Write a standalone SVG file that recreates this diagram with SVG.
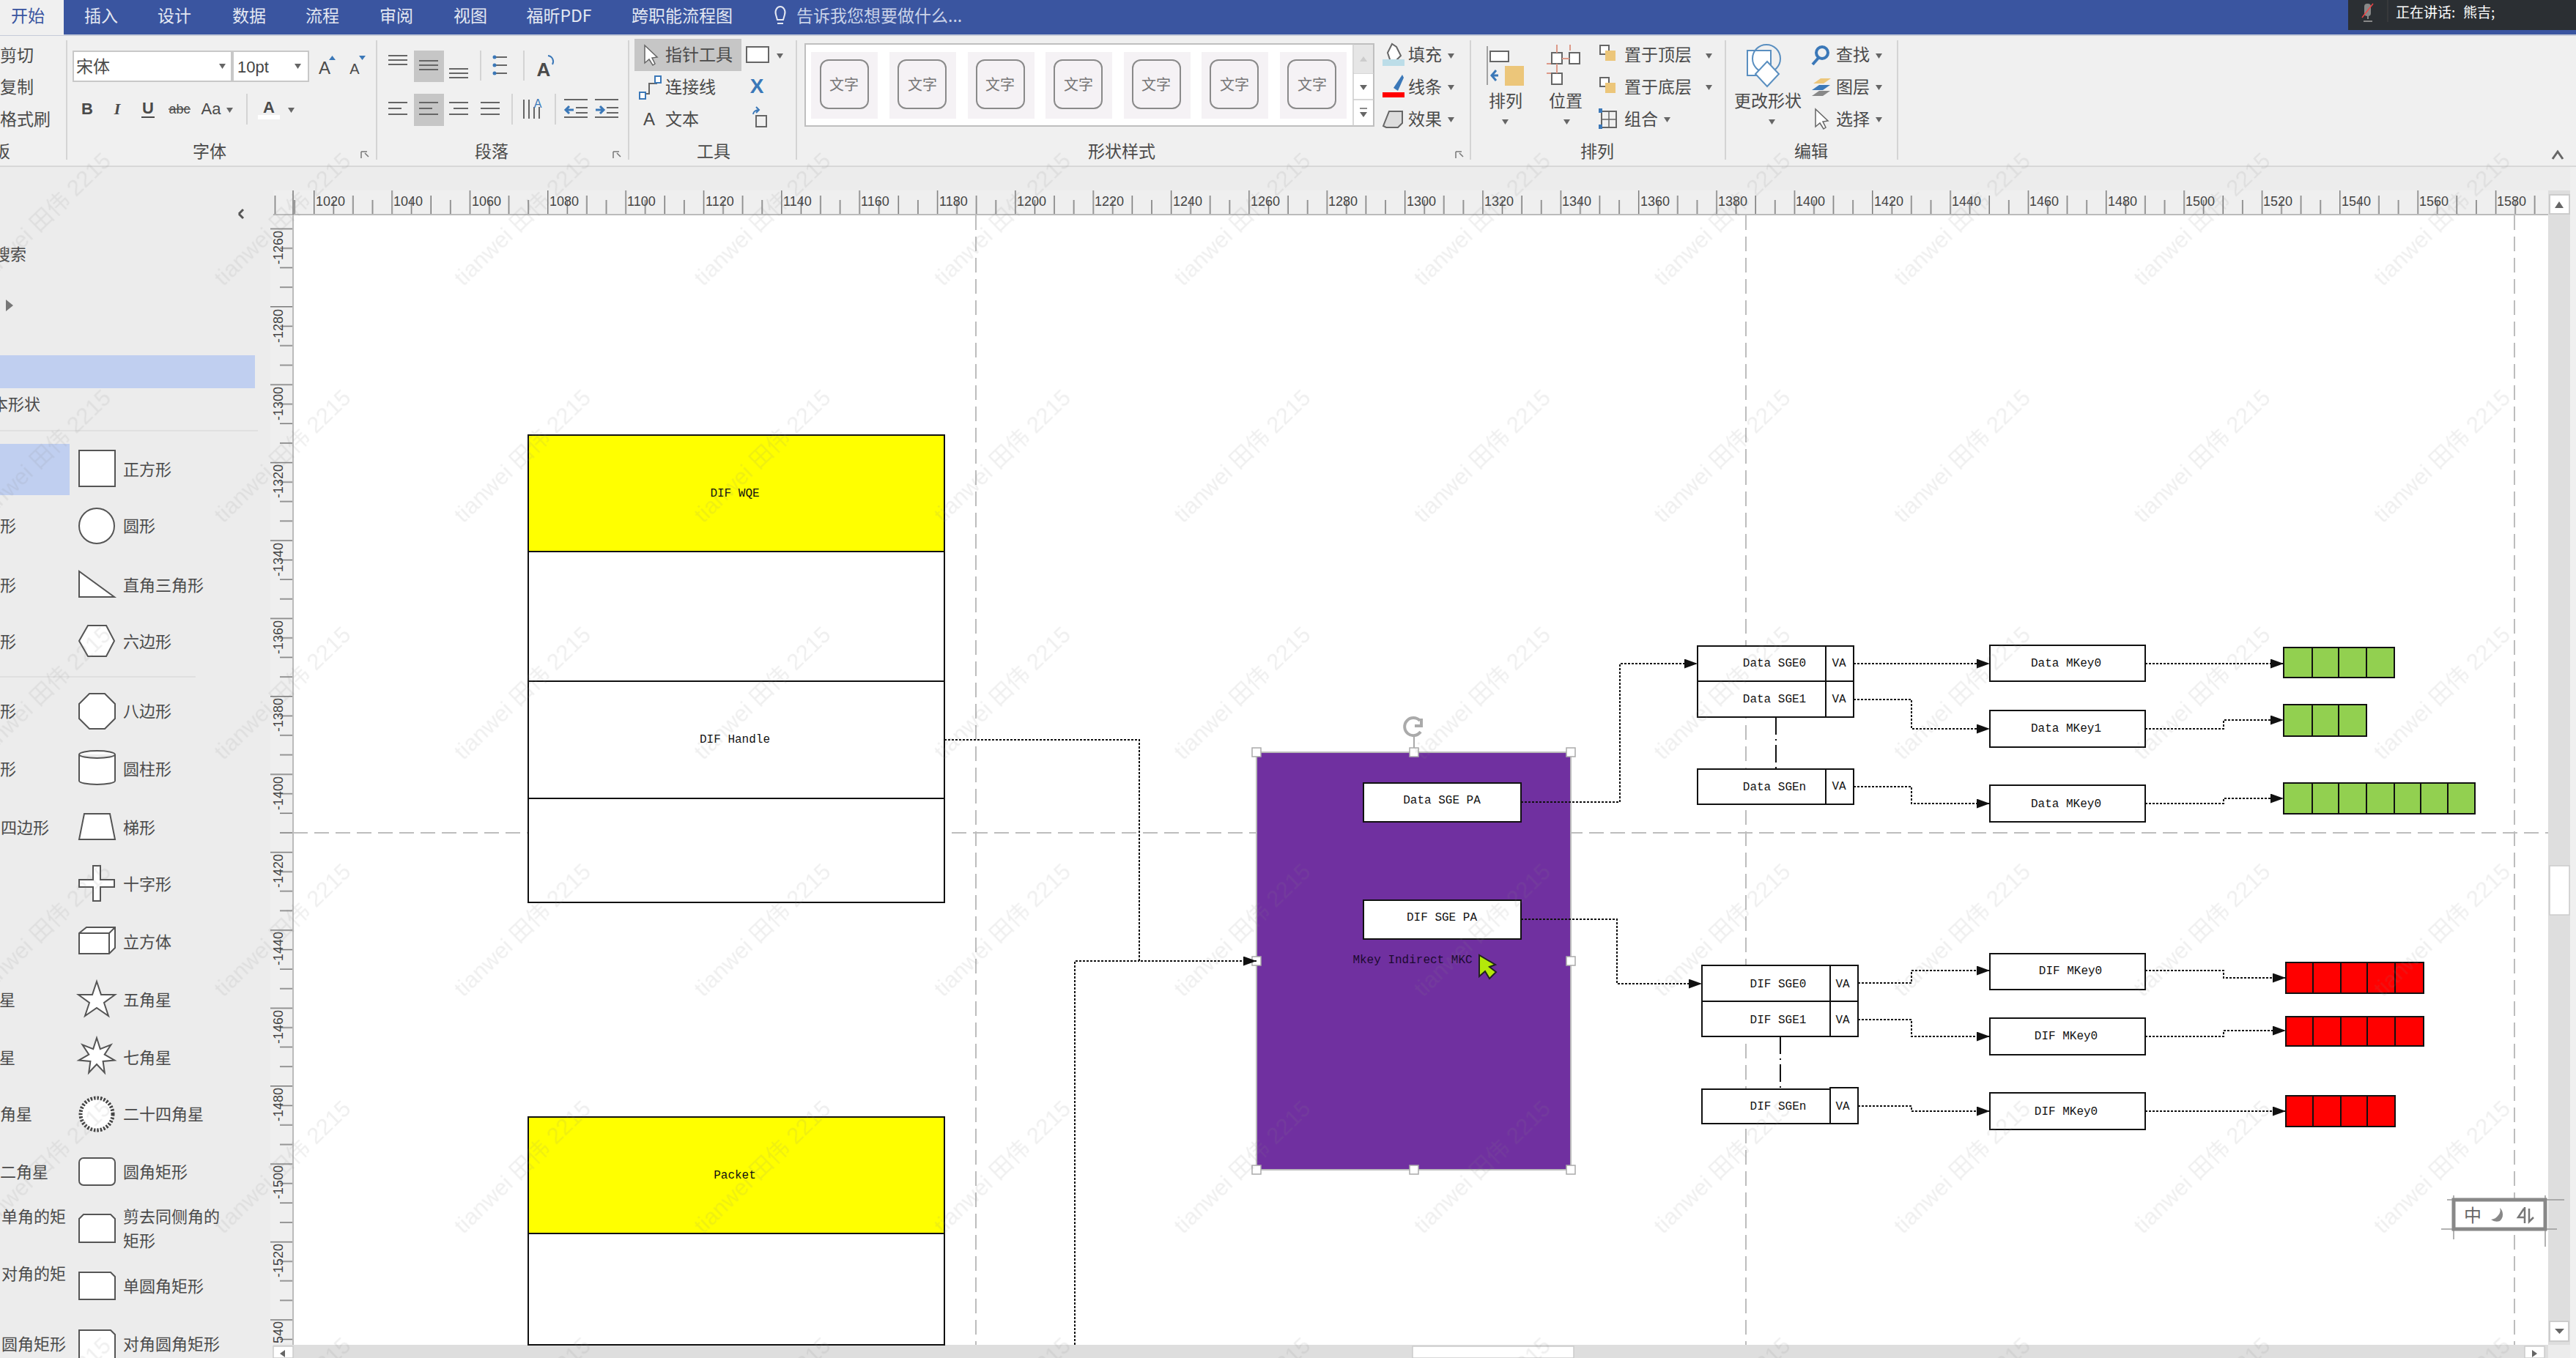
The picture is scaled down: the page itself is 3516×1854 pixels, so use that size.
<svg xmlns="http://www.w3.org/2000/svg" width="3516" height="1854" viewBox="0 0 3516 1854">
<style>
text{dominant-baseline:central}
.u{font:23px "Noto Sans CJK SC","Liberation Sans",sans-serif;fill:#4a4a4a;transform:translateY(-2px)}
.s{font:22px "Noto Sans CJK SC","Liberation Sans",sans-serif;fill:#4a4a4a;transform:translateY(-2px)}
.t{font:23px "Noto Sans CJK SC","Liberation Sans",sans-serif;fill:#e4e8f2;text-anchor:middle;transform:translateY(-1px)}
.c{text-anchor:middle}
.e{text-anchor:end}
.r{font:18px "Liberation Sans",sans-serif;fill:#444}
.m{font:16px "Liberation Mono",monospace;fill:#111;text-anchor:middle;transform:translateY(2px)}
.b{font:bold 22px "Liberation Sans",sans-serif;fill:#4a4a4a;text-anchor:middle}
.g{font:20px "Noto Sans CJK SC",sans-serif;fill:#777;text-anchor:middle}
.n{fill:#fff;stroke:#111;stroke-width:2}
.sh{fill:#fff;stroke:#555;stroke-width:2}
.i{fill:none;stroke:#666;stroke-width:2}
.a{fill:#666}
.sep{stroke:#d4d4d4;stroke-width:2}
.sw{fill:#f5f2f5}
.inner{fill:#f5f2f5;stroke:#8a8a8a;stroke-width:2}
.gu{stroke:#bdbdbd;stroke-width:2;stroke-dasharray:20 9;fill:none}
.k{fill:none;stroke:#111;stroke-width:2;stroke-dasharray:3 2;marker-end:url(#ah)}
.k0{fill:none;stroke:#111;stroke-width:2;stroke-dasharray:3 2}
.h{fill:#fff;stroke:#aaa;stroke-width:1.5}
.gr{fill:#92d050;stroke:#111;stroke-width:2}
.rd{fill:#f00;stroke:#111;stroke-width:2}
</style>
<defs>
<marker id="ah" markerUnits="userSpaceOnUse" markerWidth="18" markerHeight="13" refX="18" refY="6.5" orient="auto"><path d="M0 0L18 6.5L0 13z" fill="#111"/></marker>
<pattern id="rh" patternUnits="userSpaceOnUse" x="428" y="260" width="106.35" height="33"><path d="M.7 0V33M27.3 13V33M53.9 7V33M80.5 13V33" stroke="#777" stroke-width="1.5" fill="none"/></pattern>
<pattern id="rv" patternUnits="userSpaceOnUse" x="369" y="418" width="31" height="106.4"><path d="M0 .7H31M13 27.3H31M13 53.9H31M13 80.5H31" stroke="#777" stroke-width="1.5" fill="none"/></pattern>
<pattern id="wm" patternUnits="userSpaceOnUse" x="500" y="800" width="327.5" height="323.5"><text transform="translate(301 61) rotate(-44)" text-anchor="end" font-family="'Liberation Sans','Noto Sans CJK SC',sans-serif" font-size="31" fill="#808080" fill-opacity=".13">tianwei 田伟 2215</text></pattern>
<clipPath id="cv"><rect x="369" y="294" width="31" height="1540"/></clipPath>
</defs>

<rect width="3516" height="1854" fill="#ececec"/>
<rect y="48" width="3516" height="179" fill="#f0f0f0"/>
<rect y="226" width="3516" height="2" fill="#d8d8d8"/>

<g id="tabs">
<rect width="3516" height="47" fill="#3a55a0"/>
<rect y="47" width="3516" height="2" fill="#c5cbd9"/>
<rect width="87" height="48" fill="#f0f0f0"/>
<text class="t" x="38" y="21" style="fill:#3a55a0">开始</text>
<text class="t" x="138" y="21">插入</text><text class="t" x="238" y="21">设计</text><text class="t" x="340" y="21">数据</text><text class="t" x="440" y="21">流程</text><text class="t" x="541" y="21">审阅</text><text class="t" x="642" y="21">视图</text><text class="t" x="763" y="21">福昕PDF</text><text class="t" x="931" y="21">跨职能流程图</text>
<path d="M1059 20a6.500 8 0 1 1 12 0l-2 7h-8zM1061 32h8" fill="none" stroke="#e4e8f2" stroke-width="2"/>
<text class="u" x="1087" y="22" style="fill:#c9d2e8">告诉我您想要做什么...</text>
</g>
<g id="speaking">
<rect x="3205" width="311" height="41" fill="#2b2f33"/>
<rect x="3227" y="5" width="9" height="17" rx="4" fill="#888"/><path d="M3232 22v4M3226 29h12" stroke="#888" stroke-width="2"/>
<path d="M3224 24L3239 5" stroke="#e44" stroke-width="1.500"/>
<path d="M3259 0V30" stroke="#444" stroke-width="1"/>
<text x="3270" y="15" font-family="'Noto Sans CJK SC',sans-serif" font-size="19" fill="#fff">正在讲话:</text>
<text x="3362" y="15" font-family="'Noto Sans CJK SC',sans-serif" font-size="19" fill="#fff">熊吉;</text>
</g>

<g id="ribbon-clipboard">
<text class="u" x="0" y="76">剪切</text><text class="u" x="0" y="119">复制</text><text class="u" x="0" y="163">格式刷</text><text class="u e" x="14" y="207">板</text>
<path class="sep" d="M91 55V218"/>
</g>
<g id="ribbon-font">
<rect x="100" y="70" width="216" height="41" fill="#fff" stroke="#c8c8c8" stroke-width="2"/><rect x="318" y="70" width="103" height="41" fill="#fff" stroke="#c8c8c8" stroke-width="2"/>
<text class="u" x="104" y="91">宋体</text><text x="324" y="91" font-family="'Liberation Sans',sans-serif" font-size="22" fill="#444">10pt</text>
<path class="a" d="M299 87h9l-4.500 7zM402 87h9l-4.500 7z"/>
<text class="b" x="443" y="92" style="font:24px 'Liberation Sans',sans-serif">A</text><text class="b" x="484" y="94" style="font:20px 'Liberation Sans',sans-serif">A</text>
<path d="M449 82h9l-4.500-6z" fill="#3b78b8"/><path d="M490 76h9l-4.500 6z" fill="#3b78b8"/>
<text class="b" x="119" y="148">B</text><text class="b" x="160" y="148" style="font:italic bold 22px 'Liberation Serif',serif">I</text><text class="b" x="202" y="147">U</text><path d="M193 160h18" stroke="#4a4a4a" stroke-width="2"/>
<text class="b" x="245" y="149" style="font:18px 'Liberation Sans',sans-serif">abc</text><path d="M230 149h30" stroke="#4a4a4a" stroke-width="1.500"/>
<text class="b" x="288" y="148" style="font:22px 'Liberation Sans',sans-serif">Aa</text><path class="a" d="M309 147h9l-4.500 7zM393 147h9l-4.500 7z"/>
<text class="b" x="367" y="146">A</text><rect x="352" y="157" width="30" height="6" fill="#fff"/>
<path class="sep" d="M337 128V170"/>
<text class="u c" x="286" y="207">字体</text>
<path d="M493 207h8M493 207v9M503 214l-5-5" fill="none" stroke="#777" stroke-width="1.500"/>
<path class="sep" d="M514 55V218"/>
</g>
<g id="ribbon-paragraph">
<rect x="565" y="69" width="41" height="43" fill="#c6c6c6"/><rect x="565" y="128" width="41" height="44" fill="#c6c6c6"/>
<path class="i" d="M530 76h26M530 82h26M530 88h26M572 83h26M572 89h26M572 95h26M613 94h26M613 100h26M613 106h26"/>
<path class="i" d="M530 140h26M530 148h18M530 156h26M572 140h26M572 148h18M572 156h26M613 140h26M619 148h20M613 156h26M656 140h26M656 148h26M656 156h26"/>
<path d="M674 78h18M674 89h18M674 100h18" stroke="#666" stroke-width="2"/><circle cx="675" cy="78" r="2.500" fill="#3b78b8"/><circle cx="675" cy="89" r="2.500" fill="#3b78b8"/><circle cx="675" cy="100" r="2.500" fill="#3b78b8"/>
<path class="sep" d="M656 69V110M715 69V110M699 128V170M758 128V170"/>
<text class="b" x="742" y="95" style="font:bold 26px 'Liberation Sans',sans-serif">A</text><path d="M748 76a8 8 0 0 1 6 12" fill="none" stroke="#3b78b8" stroke-width="2"/>
<path class="i" d="M715 136v26M722 136v26M729 146v16M736 146v16"/><text class="b" x="734" y="141" style="font:16px 'Liberation Sans',sans-serif;fill:#3b78b8">A</text>
<path class="i" d="M770 136h32M786 147h16M786 154h16M770 160h32M812 136h32M828 147h16M828 154h16M812 160h32"/>
<path d="M783 150h-11m5-5l-5 5l5 5" fill="none" stroke="#3b78b8" stroke-width="3"/><path d="M813 150h11m-5-5l5 5l-5 5" fill="none" stroke="#3b78b8" stroke-width="3"/>
<text class="u c" x="671" y="207">段落</text>
<path d="M837 207h8M837 207v9M847 214l-5-5" fill="none" stroke="#777" stroke-width="1.500"/>
<path class="sep" d="M858 55V218"/>
</g>
<g id="ribbon-tools">
<rect x="866" y="53" width="146" height="44" fill="#c6c6c6"/>
<path d="M880 62l0 24l6-5l5 8l3-2l-4-8l7-1z" fill="#fff" stroke="#666" stroke-width="1.500"/>
<text class="u" x="908" y="75">指针工具</text>
<rect x="1019" y="64" width="30" height="21" fill="#fff" stroke="#666" stroke-width="2"/><path class="a" d="M1060 73h9l-4.500 7z"/>
<path d="M877 128h9v-14h11" fill="none" stroke="#666" stroke-width="2"/><rect x="873" y="126" width="8" height="9" fill="#fff" stroke="#3b78b8" stroke-width="2"/><rect x="894" y="104" width="8" height="9" fill="#fff" stroke="#3b78b8" stroke-width="2"/>
<text class="u" x="908" y="119">连接线</text>
<text x="1033" y="117" class="c" font-family="'Liberation Sans',sans-serif" font-size="28" font-weight="bold" fill="#3b78b8">X</text>
<text class="b" x="886" y="162" style="font:24px 'Liberation Sans',sans-serif">A</text><text class="u" x="908" y="163">文本</text>
<path d="M1028 156a8 6 0 0 1 8-6M1032 146l4 4l-4 4" fill="none" stroke="#3b78b8" stroke-width="2"/><rect x="1032" y="158" width="14" height="15" class="i"/>
<text class="u c" x="974" y="207">工具</text>
<path class="sep" d="M1087 55V218"/>
</g>
<g id="ribbon-styles">
<rect x="1099" y="60" width="776" height="112" fill="#fff" stroke="#bfbfbf" stroke-width="2"/>
<path d="M1847 60V172M1847 100H1875M1847 136H1875" stroke="#ccc" stroke-width="1.500"/>
<rect x="1848" y="61" width="26" height="39" fill="#e6e6e6"/>
<path d="M1856 84l5-7l5 7z" fill="#ccc"/><path class="a" d="M1856 116h10l-5 7zM1856 153h10l-5 7z"/><path d="M1856 148h10" stroke="#666" stroke-width="1.500"/>
<rect class="sw" x="1107" y="71" width="91" height="91"/><rect class="sw" x="1214" y="71" width="91" height="91"/><rect class="sw" x="1321" y="71" width="91" height="91"/><rect class="sw" x="1427" y="71" width="91" height="91"/><rect class="sw" x="1534" y="71" width="91" height="91"/><rect class="sw" x="1640" y="71" width="91" height="91"/><rect class="sw" x="1747" y="71" width="91" height="91"/>
<rect class="inner" x="1120" y="82" width="65" height="66" rx="11"/><rect class="inner" x="1226" y="82" width="65" height="66" rx="11"/><rect class="inner" x="1333" y="82" width="65" height="66" rx="11"/><rect class="inner" x="1439" y="82" width="65" height="66" rx="11"/><rect class="inner" x="1546" y="82" width="65" height="66" rx="11"/><rect class="inner" x="1652" y="82" width="65" height="66" rx="11"/><rect class="inner" x="1758" y="82" width="65" height="66" rx="11"/>
<text class="g" x="1152" y="114">文字</text><text class="g" x="1259" y="114">文字</text><text class="g" x="1365" y="114">文字</text><text class="g" x="1472" y="114">文字</text><text class="g" x="1578" y="114">文字</text><text class="g" x="1685" y="114">文字</text><text class="g" x="1791" y="114">文字</text>
<path d="M1894 72l6-12l6 4l6 12l-8 8h-6z" fill="#fff" stroke="#666" stroke-width="2"/><rect x="1887" y="81" width="30" height="9" fill="#bcdde8"/>
<text class="u" x="1922" y="75">填充</text><path class="a" d="M1976 73h9l-4.500 7z"/>
<path d="M1902 120l12-18l2 4l-8 18z" fill="#3b78b8"/><rect x="1887" y="126" width="30" height="7" fill="#f00"/>
<text class="u" x="1922" y="119">线条</text><path class="a" d="M1976 116h9l-4.500 7z"/>
<path d="M1888 172l8-20h18v16l-6 6h-16z" fill="#ddd" stroke="#666" stroke-width="2"/>
<text class="u" x="1922" y="163">效果</text><path class="a" d="M1976 160h9l-4.500 7z"/>
<text class="u c" x="1531" y="207">形状样式</text>
<path d="M1987 207h8M1987 207v9M1997 214l-5-5" fill="none" stroke="#777" stroke-width="1.500"/>
<path class="sep" d="M2007 55V218"/>
</g>
<g id="ribbon-arrange">
<path d="M2030 63V116" stroke="#888" stroke-width="1.500"/><rect x="2034" y="70" width="25" height="14" fill="#fff" stroke="#666" stroke-width="2"/><rect x="2054" y="90" width="26" height="27" fill="#ecc67a"/><path d="M2045 103h-9m6-7l-6 7l6 7" fill="none" stroke="#3b78b8" stroke-width="3"/>
<text class="u c" x="2055" y="138">排列</text><path class="a" d="M2050 163h9l-4.500 7z"/>
<rect x="2118" y="72" width="14" height="15" fill="#fff" stroke="#666" stroke-width="2"/><rect x="2142" y="72" width="14" height="15" fill="#fff" stroke="#666" stroke-width="2"/><rect x="2118" y="100" width="14" height="15" fill="#fff" stroke="#666" stroke-width="2"/>
<path d="M2125 61v11M2125 87v13M2132 80h10M2143 61v8M2111 87h6M2111 100h6" stroke="#d98" stroke-width="2" fill="none"/>
<text class="u c" x="2137" y="138">位置</text><path class="a" d="M2134 163h9l-4.500 7z"/>
<rect x="2184" y="62" width="12" height="12" fill="#fff" stroke="#666" stroke-width="2"/><rect x="2191" y="69" width="14" height="14" fill="#ecc67a"/><rect x="2184" y="106" width="12" height="12" fill="#fff" stroke="#666" stroke-width="2"/><rect x="2191" y="113" width="14" height="14" fill="#ecc67a"/>
<rect x="2186" y="152" width="20" height="22" class="i"/><path d="M2186 163h20M2196 152v22" stroke="#666" stroke-width="1.500"/><rect x="2182" y="148" width="5" height="6" fill="#3b78b8"/><rect x="2182" y="170" width="5" height="6" fill="#3b78b8"/>
<text class="u" x="2217" y="75">置于顶层</text><path class="a" d="M2328 73h9l-4.500 7z"/>
<text class="u" x="2217" y="119">置于底层</text><path class="a" d="M2328 116h9l-4.500 7z"/>
<text class="u" x="2217" y="163">组合</text><path class="a" d="M2271 160h9l-4.500 7z"/>
<text class="u c" x="2180" y="207">排列</text>
<path class="sep" d="M2355 55V218"/>
</g>
<g id="ribbon-edit">
<rect x="2385" y="69" width="32" height="34" fill="#fff" stroke="#5a8fc0" stroke-width="2"/>
<circle cx="2411" cy="80" r="19" fill="none" stroke="#5a8fc0" stroke-width="2"/>
<path d="M2412 84l16 17l-16 17l-16-17z" fill="#fff" stroke="#5a8fc0" stroke-width="2"/>
<text class="u c" x="2413" y="138">更改形状</text><path class="a" d="M2414 163h9l-4.500 7z"/>
<circle cx="2487" cy="72" r="8" fill="none" stroke="#3b78b8" stroke-width="4"/><path d="M2482 79l-8 9" stroke="#3b78b8" stroke-width="4"/>
<text class="u" x="2506" y="75">查找</text><path class="a" d="M2560 73h9l-4.500 7z"/>
<path d="M2475 114l10-7h14l-10 7z" fill="#ecc67a"/><path d="M2473 123l10-7h15l-10 7z" fill="#3b78b8"/><path d="M2473 131l10-7h15l-10 7z" fill="#888"/>
<text class="u" x="2506" y="119">图层</text><path class="a" d="M2560 116h9l-4.500 7z"/>
<path d="M2478 149l0 24l6-5l5 8l3-2l-4-8l7-1z" fill="#fff" stroke="#666" stroke-width="1.500"/>
<text class="u" x="2506" y="163">选择</text><path class="a" d="M2560 160h9l-4.500 7z"/>
<text class="u c" x="2472" y="207">编辑</text>
<path class="sep" d="M2590 55V218"/>
<path d="M3484 217l7-10l7 10" fill="none" stroke="#666" stroke-width="3"/>
</g>

<g id="sidebar">
<path d="M326 292l6-6M326 292l6 6" fill="none" stroke="#555" stroke-width="3"/>
<text class="s e" x="36" y="347">搜索</text>
<path d="M8 409l10 8l-10 8z" fill="#777"/>
<rect y="485" width="348" height="45" fill="#c0cff0"/>
<text class="s e" x="55" y="552">基本形状</text>
<path d="M0 588H352M0 924H267" stroke="#dcdcdc" stroke-width="1.500"/>
<rect y="606" width="95" height="70" fill="#c0cff0"/>
<text class="s e" x="22" y="718">形</text><text class="s e" x="22" y="799">形</text><text class="s e" x="22" y="876">形</text><text class="s e" x="22" y="971">形</text><text class="s e" x="22" y="1050">形</text>
<text class="s e" x="67" y="1130">四边形</text><text class="s e" x="21" y="1365">星</text><text class="s e" x="21" y="1444">星</text><text class="s e" x="44" y="1521">角星</text><text class="s e" x="66" y="1600">二角星</text><text class="s e" x="90" y="1661">单角的矩</text><text class="s e" x="90" y="1739">对角的矩</text><text class="s e" x="90" y="1835">圆角矩形</text>
<rect class="sh" x="108" y="615" width="49" height="49"/><text class="s" x="168" y="641">正方形</text>
<circle class="sh" cx="132" cy="718" r="24"/><text class="s" x="168" y="718">圆形</text>
<path class="sh" d="M108 780V815H156z"/><text class="s" x="168" y="799">直角三角形</text>
<path class="sh" d="M108 875L120 854H145L156 875L145 896H120z"/><text class="s" x="168" y="876">六边形</text>
<path class="sh" d="M108 961L122 947H143L157 961V981L143 995H122L108 981z"/><text class="s" x="168" y="971">八边形</text>
<path class="sh" d="M108 1030a24.500 5 0 0 1 49 0V1066a24.500 5 0 0 1-49 0zM108 1030a24.500 5 0 0 0 49 0"/><text class="s" x="168" y="1050">圆柱形</text>
<path class="sh" d="M115 1111H150L157 1146H108z"/><text class="s" x="168" y="1130">梯形</text>
<path class="sh" d="M127 1182H137V1201H156V1211H137V1230H127V1211H108V1201H127z"/><text class="s" x="168" y="1207">十字形</text>
<path class="sh" d="M108 1274L118 1266H157V1294L149 1302H108zM108 1274H149V1302M149 1274L157 1266"/><text class="s" x="168" y="1286">立方体</text>
<path class="sh" d="M132 1340L138 1358H157L142 1369L148 1387L132 1376L116 1387L122 1369L107 1358H126z"/><text class="s" x="168" y="1365">五角星</text>
<path class="sh" d="M132 1417L136.800 1432.100L151.500 1426.400L142.700 1439.600L156.400 1447.600L140.600 1448.900L142.800 1464.500L132 1453L121.200 1464.500L123.400 1448.900L107.600 1447.600L121.300 1439.600L112.500 1426.400L127.200 1432.100z"/><text class="s" x="168" y="1444">七角星</text>
<circle cx="132" cy="1521" r="22" fill="#fff" stroke="#444" stroke-width="5" stroke-dasharray="2.5 2"/><text class="s" x="168" y="1521">二十四角星</text>
<rect class="sh" x="108" y="1581" width="49" height="37" rx="6"/><text class="s" x="168" y="1600">圆角矩形</text>
<path class="sh" d="M114 1658H151L157 1664V1696H108V1664z"/><text class="s" x="168" y="1661">剪去同侧角的</text><text class="s" x="168" y="1694">矩形</text>
<path class="sh" d="M108 1737H151L157 1743V1774H108z"/><text class="s" x="168" y="1756">单圆角矩形</text>
<path class="sh" d="M108 1816H151L157 1822V1856H108z"/><text class="s" x="168" y="1835">对角圆角矩形</text>
</g>

<g id="canvas">
<rect x="400" y="294" width="3078" height="1542" fill="#fff"/>
<path class="gu" d="M400 1137H3478M1332 294V1836M2383 294V1836M3432 294V1836"/>
</g>

<g id="ruler-h">
<rect x="373" y="260" width="3105" height="32" fill="#efefef"/>
<rect x="373" y="260" width="3105" height="33" fill="url(#rh)"/>
<path d="M373 293H3478" stroke="#bbb" stroke-width="2"/><path d="M400 260V293" stroke="#777" stroke-width="1.500"/>
<text class="r" x="431" y="275">1020</text><text class="r" x="537" y="275">1040</text><text class="r" x="644" y="275">1060</text><text class="r" x="750" y="275">1080</text><text class="r" x="856" y="275">1100</text><text class="r" x="963" y="275">1120</text><text class="r" x="1069" y="275">1140</text><text class="r" x="1175" y="275">1160</text><text class="r" x="1282" y="275">1180</text><text class="r" x="1388" y="275">1200</text><text class="r" x="1494" y="275">1220</text><text class="r" x="1601" y="275">1240</text><text class="r" x="1707" y="275">1260</text><text class="r" x="1813" y="275">1280</text><text class="r" x="1920" y="275">1300</text><text class="r" x="2026" y="275">1320</text><text class="r" x="2132" y="275">1340</text><text class="r" x="2239" y="275">1360</text><text class="r" x="2345" y="275">1380</text><text class="r" x="2451" y="275">1400</text><text class="r" x="2558" y="275">1420</text><text class="r" x="2664" y="275">1440</text><text class="r" x="2770" y="275">1460</text><text class="r" x="2877" y="275">1480</text><text class="r" x="2983" y="275">1500</text><text class="r" x="3089" y="275">1520</text><text class="r" x="3196" y="275">1540</text><text class="r" x="3302" y="275">1560</text><text class="r" x="3408" y="275">1580</text>
</g>
<g id="ruler-v" clip-path="url(#cv)">
<rect x="369" y="294" width="31" height="1540" fill="#efefef"/>
<rect x="369" y="294" width="31" height="1540" fill="url(#rv)"/>
<text class="r" transform="translate(380 361) rotate(-90)">-1260</text><text class="r" transform="translate(380 468) rotate(-90)">-1280</text><text class="r" transform="translate(380 574) rotate(-90)">-1300</text><text class="r" transform="translate(380 680) rotate(-90)">-1320</text><text class="r" transform="translate(380 787) rotate(-90)">-1340</text><text class="r" transform="translate(380 893) rotate(-90)">-1360</text><text class="r" transform="translate(380 999) rotate(-90)">-1380</text><text class="r" transform="translate(380 1106) rotate(-90)">-1400</text><text class="r" transform="translate(380 1212) rotate(-90)">-1420</text><text class="r" transform="translate(380 1318) rotate(-90)">-1440</text><text class="r" transform="translate(380 1425) rotate(-90)">-1460</text><text class="r" transform="translate(380 1531) rotate(-90)">-1480</text><text class="r" transform="translate(380 1637) rotate(-90)">-1500</text><text class="r" transform="translate(380 1744) rotate(-90)">-1520</text><text class="r" transform="translate(380 1850) rotate(-90)">-1540</text>
</g>
<path d="M400 293V1836" stroke="#bbb" stroke-width="2"/>

<g id="scrollbars">
<rect x="3478" y="260" width="30" height="1576" fill="#dedede"/>
<rect x="3508" y="228" width="8" height="1626" fill="#f0f0f0"/>
<rect x="3480" y="266" width="27" height="26" fill="#fff" stroke="#ccc" stroke-width="2"/><path class="a" d="M3487 284l6-9l6 9z"/>
<rect x="3480" y="1182" width="27" height="67" fill="#fff" stroke="#ccc" stroke-width="1.500"/>
<rect x="3480" y="1804" width="26" height="27" fill="#fff" stroke="#ccc" stroke-width="2"/><path class="a" d="M3487 1814h13l-6.500 7z"/>
<rect x="373" y="1836" width="3105" height="18" fill="#dedede"/>
<rect x="373" y="1838" width="27" height="16" fill="#fff" stroke="#ccc" stroke-width="1.500"/><path class="a" d="M389 1843l-7 5l7 5z"/>
<rect x="1928" y="1838" width="220" height="16" fill="#fff" stroke="#ccc" stroke-width="1.500"/>
<rect x="3446" y="1838" width="27" height="16" fill="#fff" stroke="#ccc" stroke-width="1.500"/><path class="a" d="M3456 1843l7 5l-7 5z"/>
</g>

<g id="dif-wqe">
<rect class="n" x="721" y="594" width="568" height="159" style="fill:#ff0"/>
<text class="m" x="1003" y="672">DIF WQE</text>
<rect class="n" x="721" y="753" width="568" height="177"/>
<rect class="n" x="721" y="930" width="568" height="160"/>
<text class="m" x="1003" y="1008">DIF Handle</text>
<rect class="n" x="721" y="1090" width="568" height="142"/>
</g>
<g id="packet">
<rect class="n" x="721" y="1525" width="568" height="159" style="fill:#ff0"/>
<text class="m" x="1003" y="1603">Packet</text>
<rect class="n" x="721" y="1684" width="568" height="152"/>
</g>

<g id="mkey-indirect">
<rect x="1715" y="1027" width="429" height="570" fill="#7030a0" stroke="#bbb" stroke-width="2"/>
<text class="m" x="1928" y="1309" style="fill:#1c0a30">Mkey Indirect MKC</text>
<path d="M1930 1005V1027" stroke="#aaa" stroke-width="2"/>
<path d="M1938 984a12 12 0 1 0 1 15M1940 981v10h-9" fill="none" stroke="#aaa" stroke-width="4"/>
<rect class="h" x="1709" y="1021" width="12" height="12"/><rect class="h" x="1924" y="1021" width="12" height="12"/><rect class="h" x="2138" y="1021" width="12" height="12"/><rect class="h" x="1709" y="1306" width="12" height="12"/><rect class="h" x="2138" y="1306" width="12" height="12"/><rect class="h" x="1709" y="1591" width="12" height="12"/><rect class="h" x="1924" y="1591" width="12" height="12"/><rect class="h" x="2138" y="1591" width="12" height="12"/>
</g>
<g id="data-sge-pa"><rect class="n" x="1861" y="1069" width="215" height="53"/><text class="m" x="1968" y="1091">Data SGE PA</text></g>
<g id="dif-sge-pa"><rect class="n" x="1861" y="1229" width="215" height="53"/><text class="m" x="1968" y="1251">DIF SGE PA</text></g>

<g id="data-sge">
<rect class="n" x="2317" y="882" width="213" height="48"/><path class="n" d="M2492 882V930"/><text class="m" x="2422" y="904">Data SGE0</text><text class="m" x="2510" y="904">VA</text>
<rect class="n" x="2317" y="930" width="213" height="49"/><path class="n" d="M2492 930V979"/><text class="m" x="2422" y="953">Data SGE1</text><text class="m" x="2510" y="953">VA</text>
<rect class="n" x="2317" y="1050" width="213" height="48"/><path class="n" d="M2492 1050V1098"/><text class="m" x="2422" y="1073">Data SGEn</text><text class="m" x="2510" y="1072">VA</text>
</g>
<g id="dif-sge">
<rect class="n" x="2323" y="1318" width="213" height="49"/><path class="n" d="M2498 1318V1367"/><text class="m" x="2427" y="1342">DIF SGE0</text><text class="m" x="2515" y="1342">VA</text>
<rect class="n" x="2323" y="1367" width="213" height="48"/><path class="n" d="M2498 1367V1415"/><text class="m" x="2427" y="1391">DIF SGE1</text><text class="m" x="2515" y="1391">VA</text>
<rect class="n" x="2323" y="1487" width="175" height="47"/><rect class="n" x="2498" y="1485" width="38" height="49"/><text class="m" x="2427" y="1509">DIF SGEn</text><text class="m" x="2515" y="1509">VA</text>
</g>
<g id="data-mkey0"><rect class="n" x="2716" y="881" width="212" height="49"/><text class="m" x="2820" y="904">Data MKey0</text></g>
<g id="data-mkey1"><rect class="n" x="2716" y="970" width="212" height="50"/><text class="m" x="2820" y="993">Data MKey1</text></g>
<g id="data-mkey2"><rect class="n" x="2716" y="1072" width="212" height="50"/><text class="m" x="2820" y="1096">Data MKey0</text></g>
<g id="dif-mkey0"><rect class="n" x="2716" y="1302" width="212" height="49"/><text class="m" x="2826" y="1324">DIF MKey0</text></g>
<g id="dif-mkey1"><rect class="n" x="2716" y="1390" width="212" height="50"/><text class="m" x="2820" y="1413">DIF MKey0</text></g>
<g id="dif-mkey2"><rect class="n" x="2716" y="1492" width="212" height="50"/><text class="m" x="2820" y="1516">DIF MKey0</text></g>

<g id="green-1"><rect class="gr" x="3117" y="884" width="39" height="41"/><rect class="gr" x="3156" y="884" width="36" height="41"/><rect class="gr" x="3192" y="884" width="38" height="41"/><rect class="gr" x="3230" y="884" width="38" height="41"/></g>
<g id="green-2"><rect class="gr" x="3117" y="962" width="39" height="43"/><rect class="gr" x="3156" y="962" width="36" height="43"/><rect class="gr" x="3192" y="962" width="38" height="43"/></g>
<g id="green-3"><rect class="gr" x="3117" y="1069" width="39" height="42"/><rect class="gr" x="3156" y="1069" width="36" height="42"/><rect class="gr" x="3192" y="1069" width="38" height="42"/><rect class="gr" x="3230" y="1069" width="38" height="42"/><rect class="gr" x="3268" y="1069" width="36" height="42"/><rect class="gr" x="3304" y="1069" width="37" height="42"/><rect class="gr" x="3341" y="1069" width="37" height="42"/></g>
<g id="red-1"><rect class="rd" x="3120" y="1314" width="37" height="42"/><rect class="rd" x="3157" y="1314" width="38" height="42"/><rect class="rd" x="3195" y="1314" width="36" height="42"/><rect class="rd" x="3231" y="1314" width="38" height="42"/><rect class="rd" x="3269" y="1314" width="39" height="42"/></g>
<g id="red-2"><rect class="rd" x="3120" y="1388" width="37" height="40"/><rect class="rd" x="3157" y="1388" width="38" height="40"/><rect class="rd" x="3195" y="1388" width="36" height="40"/><rect class="rd" x="3231" y="1388" width="38" height="40"/><rect class="rd" x="3269" y="1388" width="39" height="40"/></g>
<g id="red-3"><rect class="rd" x="3120" y="1496" width="37" height="42"/><rect class="rd" x="3157" y="1496" width="38" height="42"/><rect class="rd" x="3195" y="1496" width="36" height="42"/><rect class="rd" x="3231" y="1496" width="38" height="42"/></g>

<g id="connectors">
<path class="k" d="M1289 1010H1555V1312H1715"/>
<path class="k0" d="M1467 1836V1312H1555"/>
<path class="k" d="M2076 1095H2211V906H2317"/>
<path class="k" d="M2076 1255H2207V1343H2323"/>
<path d="M2424 979V1050M2430 1415V1487" fill="none" stroke="#111" stroke-width="2" stroke-dasharray="24 6 2 6"/>
<path class="k" d="M2530 906H2716"/>
<path class="k" d="M2530 955H2609V995H2716"/>
<path class="k" d="M2530 1074H2609V1097H2716"/>
<path class="k" d="M2928 906H3117"/>
<path class="k" d="M2928 995H3035V983H3117"/>
<path class="k" d="M2928 1097H3035V1090H3117"/>
<path class="k" d="M2536 1342H2609V1325H2716"/>
<path class="k" d="M2536 1392H2609V1415H2716"/>
<path class="k" d="M2536 1510H2609V1517H2716"/>
<path class="k" d="M2928 1325H3035V1335H3120"/>
<path class="k" d="M2928 1415H3035V1407H3120"/>
<path class="k" d="M2928 1517H3120"/>
</g>

<g id="cursor"><path d="M2019 1304L2019 1333L2027 1326L2033 1336L2042 1327L2033 1320L2041 1317z" fill="#b4e80a" stroke="#222" stroke-width="2"/></g>

<g id="ime">
<path d="M3340 1638H3500M3332 1678H3490M3349 1632V1692M3474 1632V1702" fill="none" stroke="#999" stroke-width="1.500"/>
<rect x="3349" y="1638" width="125" height="40" fill="#fff" stroke="#888" stroke-width="5"/>
<text x="3375" y="1657" class="c" font-family="'Noto Sans CJK SC',sans-serif" font-size="24" fill="#666">中</text>
<path d="M3412 1649a12 12 0 0 1 0 18a13 13 0 0 1-12-2a14 14 0 0 0 10-6a10 10 0 0 0 2-10z" fill="#888"/>
<path d="M3445 1650l-8 12h9M3446 1648v22M3452 1650v18l6-6" fill="none" stroke="#777" stroke-width="2.500"/>
</g>

<rect id="watermark" y="190" width="3516" height="1664" fill="url(#wm)"/>
</svg>
